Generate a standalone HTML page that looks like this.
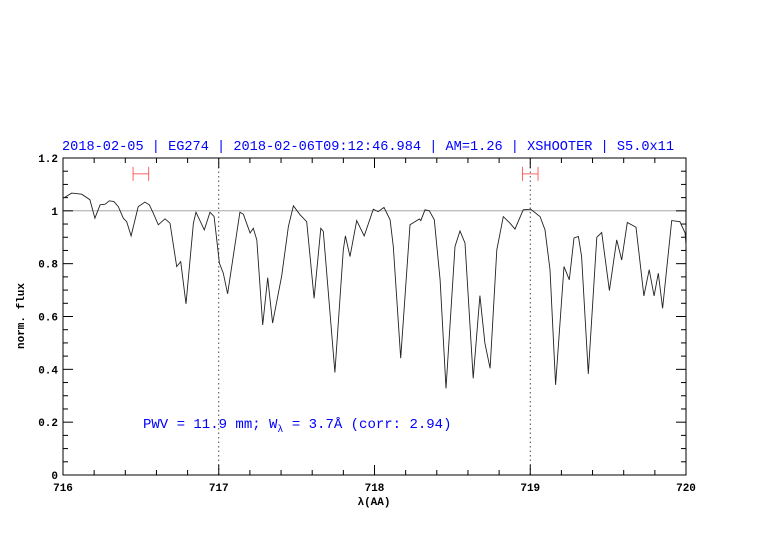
<!DOCTYPE html>
<html><head><meta charset="utf-8"><style>
body{margin:0;background:#fff;}
svg{display:block;font-family:"Liberation Sans",sans-serif;}
</style></head><body>
<svg id="chart" width="782" height="542" viewBox="0 0 782 542">
<text x="368" y="150" text-anchor="middle" fill="#0000ff" font-size="14" font-family="Liberation Mono, monospace" textLength="612" lengthAdjust="spacingAndGlyphs">2018-02-05 | EG274 | 2018-02-06T09:12:46.984 | AM=1.26 | XSHOOTER | S5.0x11</text>
<g id="axes"></g>
<path id="spec" fill="none" stroke="#222" stroke-width="0.9"/>
<text x="143" y="428" fill="#0000ff" font-size="14" font-family="Liberation Mono, monospace">PWV = 11.9 mm; W<tspan font-size="10" dy="4">λ</tspan><tspan dy="-4"> = 3.7Å (corr: 2.94)</tspan></text>
<text x="374" y="505" text-anchor="middle" font-size="11" font-weight="bold" font-family="Liberation Mono, monospace">λ(AA)</text>
<text transform="translate(24,316) rotate(-90)" text-anchor="middle" font-size="11" font-weight="bold" font-family="Liberation Mono, monospace">norm. flux</text>
</svg>
<script>
const wavelengths=[716.0,716.002,716.056,716.120,716.173,716.205,716.238,716.270,716.297,716.327,716.355,716.387,716.409,716.437,716.483,716.526,716.554,716.580,716.612,716.655,716.687,716.730,716.756,716.790,716.837,716.854,716.907,716.944,716.970,717.004,717.029,717.057,717.136,717.158,717.201,717.222,717.244,717.282,717.314,717.346,717.404,717.447,717.479,717.522,717.565,717.612,717.655,717.671,717.746,717.800,717.813,717.843,717.886,717.934,717.992,718.024,718.061,718.100,718.121,718.168,718.228,718.288,718.297,718.324,718.352,718.384,718.421,718.459,718.517,718.549,718.581,718.634,718.677,718.709,718.742,718.785,718.827,718.870,718.902,718.955,719.003,719.063,719.095,719.127,719.163,719.217,719.251,719.281,719.309,719.330,719.373,719.427,719.459,719.508,719.555,719.587,719.623,719.679,719.730,719.764,719.795,719.822,719.850,719.908,719.961,719.994,720.0];
const fluxes=[1.045,1.048,1.067,1.063,1.042,0.972,1.023,1.025,1.038,1.035,1.016,0.972,0.959,0.905,1.016,1.033,1.023,0.991,0.947,0.970,0.953,0.789,0.808,0.648,0.953,0.995,0.928,0.995,0.978,0.802,0.764,0.686,0.995,0.987,0.916,0.934,0.890,0.568,0.747,0.575,0.754,0.941,1.019,0.985,0.959,0.669,0.934,0.922,0.388,0.852,0.905,0.827,0.963,0.905,1.006,0.997,1.013,0.966,0.865,0.442,0.947,0.969,0.963,1.004,1.000,0.966,0.739,0.328,0.865,0.924,0.878,0.366,0.679,0.499,0.404,0.852,0.978,0.953,0.931,1.004,1.006,0.978,0.928,0.777,0.341,0.789,0.739,0.897,0.903,0.827,0.383,0.900,0.918,0.698,0.890,0.814,0.956,0.938,0.678,0.777,0.678,0.764,0.631,0.963,0.959,0.916,0.866];
const xTickLabels=["716","717","718","719","720"];
const yTickLabels=["0","0.2","0.4","0.6","0.8","1","1.2"];
const errorBars=[[716.45,716.55],[718.95,719.05]];
const dottedLines=[717,719];

const X0=63,X1=686,Y0=475,Y1=158;
const xMin=716,xMax=720,yMin=0,yMax=1.2;
function sx(v){return X0+(v-xMin)/(xMax-xMin)*(X1-X0);}
function sy(v){return Y0-(v-yMin)/(yMax-yMin)*(Y0-Y1);}
const NS="http://www.w3.org/2000/svg";
const ax=document.getElementById('axes');
function mk(tag,attrs,parent){const e=document.createElementNS(NS,tag);for(const k in attrs)e.setAttribute(k,attrs[k]);(parent||ax).appendChild(e);return e;}

let fr=mk('rect',{x:X0,y:Y1,width:X1-X0,height:Y0-Y1,fill:'none',stroke:'#000','stroke-width':1});



let ref=mk('line',{x1:X0,x2:X1,y1:sy(1),y2:sy(1),stroke:'#999','stroke-width':0.9});



dottedLines.forEach(v=>{
  let l=mk('line',{x1:sx(v),x2:sx(v),y1:Y1,y2:Y0,stroke:'#333','stroke-width':0.9,'stroke-dasharray':'1.5,3'});
  
  
});

for(let i=0;i<=20;i++){
  const v=xMin+i*0.2,x=sx(v),len=(i%5==0)?10:5;
  mk('line',{x1:x,x2:x,y1:Y0,y2:Y0-len,stroke:'#000'});
  mk('line',{x1:x,x2:x,y1:Y1,y2:Y1+len,stroke:'#000'});
}
xTickLabels.forEach(s=>{
  let t=mk('text',{x:sx(+s),y:Y0+16,'text-anchor':'middle','font-size':11,'font-weight':'bold','font-family':'Liberation Mono, monospace'});
  t.textContent=s;
  
  
});
for(let i=0;i<=24;i++){
  const v=i*0.05,y=sy(v),len=(i%4==0)?10:5;
  mk('line',{x1:X0,x2:X0+len,y1:y,y2:y,stroke:'#000'});
  mk('line',{x1:X1,x2:X1-len,y1:y,y2:y,stroke:'#000'});
}
yTickLabels.forEach(s=>{
  let t=mk('text',{x:X0-5,y:sy(+s)+4,'text-anchor':'end','font-size':11,'font-weight':'bold','font-family':'Liberation Mono, monospace'});
  t.textContent=s;
  
  
});

errorBars.forEach(b=>{
  const g=mk('g',{stroke:'#ff6060','stroke-width':1});
  
  
  const y=sy(1.14);
  mk('line',{x1:sx(b[0]),x2:sx(b[1]),y1:y,y2:y},g);
  mk('line',{x1:sx(b[0]),x2:sx(b[0]),y1:y-7,y2:y+7},g);
  mk('line',{x1:sx(b[1]),x2:sx(b[1]),y1:y-7,y2:y+7},g);
});

let d='';
wavelengths.forEach((w,i)=>{d+=(i?'L':'M')+sx(w).toFixed(1)+','+sy(fluxes[i]).toFixed(1);});
document.getElementById('spec').setAttribute('d',d);
</script>
</body></html>
